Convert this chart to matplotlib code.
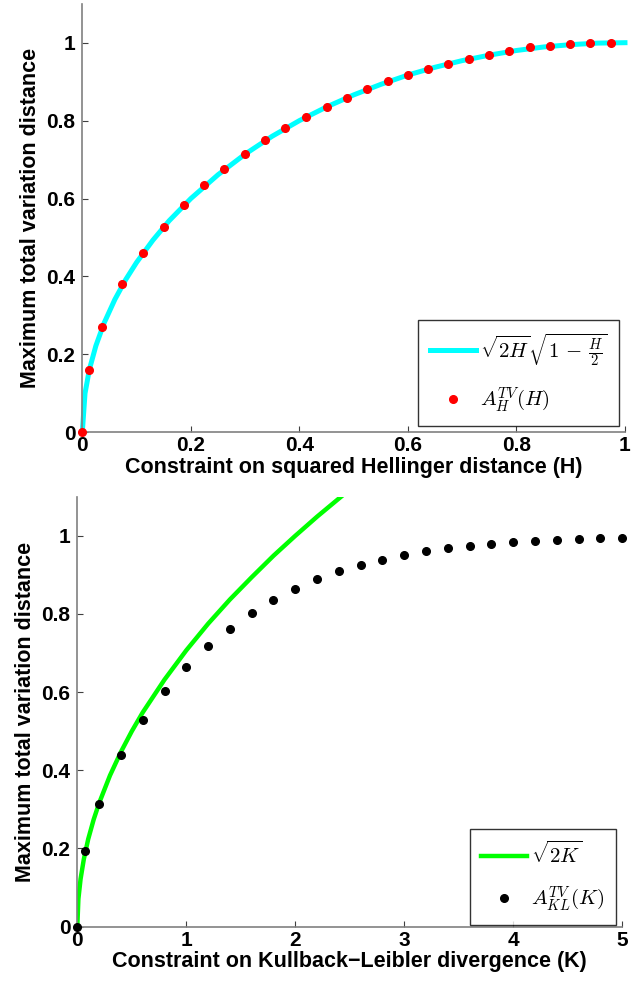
"""Maximum total variation distance under Hellinger / KL constraints."""

import matplotlib

matplotlib.use("Agg")
import matplotlib.pyplot as plt

# --- top panel: squared Hellinger constraint ---
h_line = [0, 0.005, 0.013, 0.025, 0.04, 0.06, 0.08, 0.1, 0.13, 0.16, 0.2, 0.25,
          0.3, 0.35, 0.4, 0.45, 0.5, 0.55, 0.6, 0.65, 0.7, 0.75, 0.8, 0.85,
          0.9, 0.95, 1.0]
tv_h_line = [0, 0.100, 0.161, 0.222, 0.280, 0.341, 0.392, 0.436, 0.493, 0.543,
             0.600, 0.661, 0.714, 0.760, 0.800, 0.835, 0.866, 0.893, 0.917,
             0.937, 0.954, 0.968, 0.980, 0.989, 0.995, 0.999, 1.0]
h_dots = [0, 0.013, 0.037, 0.074, 0.111, 0.150, 0.187, 0.224, 0.261, 0.300,
          0.337, 0.374, 0.413, 0.450, 0.487, 0.524, 0.563, 0.600, 0.637, 0.674,
          0.713, 0.750, 0.787, 0.825, 0.862, 0.899, 0.935, 0.975]
tv_h_dots = [0, 0.160, 0.271, 0.381, 0.461, 0.528, 0.583, 0.634, 0.675, 0.714,
             0.750, 0.781, 0.810, 0.836, 0.859, 0.880, 0.901, 0.916, 0.932,
             0.946, 0.958, 0.968, 0.978, 0.988, 0.991, 0.997, 1.0, 1.0]

# --- bottom panel: KL constraint ---
k_line = [0, 0.01, 0.03, 0.06, 0.1, 0.15, 0.2, 0.3, 0.4, 0.5, 0.6, 0.8, 1.0,
          1.2, 1.4, 1.6, 1.8, 2.0, 2.2, 2.42]
tv_k_line = [0, 0.071, 0.122, 0.173, 0.224, 0.274, 0.316, 0.387, 0.447, 0.500,
             0.548, 0.632, 0.707, 0.775, 0.837, 0.894, 0.949, 1.0, 1.049, 1.1]
k_dots = [0, 0.07, 0.2, 0.4, 0.6, 0.8, 1.0, 1.2, 1.4, 1.6, 1.8, 2.0, 2.2, 2.4,
          2.6, 2.8, 3.0, 3.2, 3.4, 3.6, 3.8, 4.0, 4.2, 4.4, 4.6, 4.8, 5.0]
tv_k_dots = [0, 0.194, 0.314, 0.438, 0.529, 0.602, 0.665, 0.717, 0.762, 0.803,
             0.836, 0.864, 0.890, 0.910, 0.926, 0.939, 0.952, 0.962, 0.969,
             0.975, 0.979, 0.984, 0.987, 0.988, 0.992, 0.994, 0.994]

plt.rcParams["font.family"] = ["Liberation Sans", "DejaVu Sans"]
plt.rcParams["mathtext.fontset"] = "cm"

fig = plt.figure(figsize=(6.41, 9.83), dpi=100)
ax1 = fig.add_axes([0.1284, 0.5602, 0.8466, 0.436])
ax2 = fig.add_axes([0.1206, 0.0573, 0.8502, 0.4374])

LABEL_SIZE = 15.5
TICK_SIZE = 15


def style(ax, xlim, xticks, xlabels):
    ax.set_xlim(*xlim)
    ax.set_ylim(0, 1.1)
    ax.set_xticks(xticks)
    ax.set_xticklabels(xlabels)
    ax.set_yticks([0, 0.2, 0.4, 0.6, 0.8, 1.0])
    ax.set_yticklabels(["0", "0.2", "0.4", "0.6", "0.8", "1"])
    for side in ("top", "right"):
        ax.spines[side].set_visible(False)
    for side in ("left", "bottom"):
        ax.spines[side].set_color("#808080")
        ax.spines[side].set_linewidth(1.2)
    ax.tick_params(direction="in", length=4, color="#404040", width=0.8,
                   labelsize=TICK_SIZE)
    ax.tick_params(axis="y", pad=5)
    ax.tick_params(axis="x", pad=3)
    for lab in ax.get_xticklabels() + ax.get_yticklabels():
        lab.set_fontweight("bold")
    ax.set_ylabel("Maximum total variation distance", fontsize=LABEL_SIZE,
                  fontweight="bold", labelpad=4)


def legend(ax, anchor):
    leg = ax.legend(loc="lower right", bbox_to_anchor=anchor, fontsize=15,
                    frameon=True, fancybox=False, edgecolor="black",
                    handlelength=2.2, borderaxespad=0, labelspacing=0.85,
                    handletextpad=0.2, borderpad=0.55)
    leg.get_frame().set_linewidth(1.0)


ax1.plot(h_line, tv_h_line, color="#00ffff", lw=3.6,
         label=r"$\sqrt{2H}\sqrt{1\,-\,\frac{H}{2}}$", clip_on=False, zorder=2)
ax1.plot(h_dots, tv_h_dots, "o", color="red", ms=5.5, mec="red",
         label=r"$A_H^{TV}(H)$", clip_on=False, zorder=3)
style(ax1, (0, 1), [0, 0.2, 0.4, 0.6, 0.8, 1.0],
      ["0", "0.2", "0.4", "0.6", "0.8", "1"])
ax1.set_xlabel("Constraint on squared Hellinger distance (H)",
               fontsize=LABEL_SIZE, fontweight="bold", labelpad=1)
legend(ax1, (0.989, 0.015))

ax2.plot(k_line, tv_k_line, color="#00ff00", lw=3.2, label=r"$\sqrt{2K}$",
         zorder=2)
ax2.plot(k_dots, tv_k_dots, "o", color="black", ms=5.5,
         label=r"$A_{KL}^{TV}(K)$", clip_on=False, zorder=3)
style(ax2, (0, 5), [0, 1, 2, 3, 4, 5], ["0", "1", "2", "3", "4", "5"])
ax2.set_xlabel("Constraint on Kullback\u2212Leibler divergence (K)",
               fontsize=LABEL_SIZE, fontweight="bold", labelpad=1)
legend(ax2, (0.988, 0.004))

fig.savefig("out.png", dpi=100)
